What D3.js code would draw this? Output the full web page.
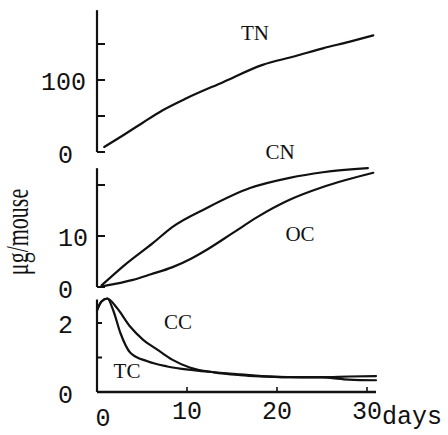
<!DOCTYPE html>
<html><head><meta charset="utf-8">
<script src="https://cdn.jsdelivr.net/npm/d3@7/dist/d3.min.js"></script>
<style>
html,body{margin:0;padding:0;background:#fff;}
svg{display:block;}
.tick-label{font-family:"Liberation Mono","DejaVu Sans Mono",monospace;font-size:25px;fill:#111;}
.series-label{font-family:"Liberation Serif","DejaVu Serif",serif;font-size:21px;fill:#111;}
</style></head>
<body>
<svg id="chart" width="448" height="435"></svg>
<script>
// ---- data ----
const TN_days = [0.8, 3, 5, 7.3, 10, 14, 18.4, 22, 25.1, 28, 30.7];
const TN      = [7, 24, 40, 58, 75, 97, 121, 133, 144, 153, 162];

const CN_days = [0.5, 3, 6.2, 8.4, 12.2, 17, 21.4, 25.1, 30.1];
const CN      = [0.3, 4.2, 8.6, 11.8, 15.5, 19.4, 21.4, 22.5, 23.3];

const OC_days = [0.5, 2, 4, 6, 8.4, 10.5, 12.2, 15.1, 17.8, 21.4, 25.1, 30.7];
const OC      = [0.1, 0.6, 1.4, 2.5, 3.9, 5.6, 7.3, 10.6, 13.7, 17.1, 19.6, 22.4];

const CC_days = [0, 0.5, 1.15, 2.2, 3.7, 5.1, 6.7, 8.4, 10.3, 13, 15.9, 21.4, 25, 28, 31];
const CC      = [2.37, 2.62, 2.71, 2.44, 1.89, 1.52, 1.23, 0.93, 0.71, 0.57, 0.49, 0.43, 0.42, 0.36, 0.34];

const TC_days = [0, 0.5, 1.15, 1.8, 2.6, 3.7, 5.6, 7.8, 10.7, 15.9, 21.4, 25, 28, 31];
const TC      = [2.37, 2.62, 2.71, 2.37, 1.71, 1.14, 0.89, 0.74, 0.63, 0.51, 0.43, 0.43, 0.45, 0.46];

const xTicks = [0, 10, 20, 30];
const xTickLabels = ["0", "10", "20", "30"];
const topTicks = [0, 50, 100, 150];     const topLabels = {0: "0", 100: "100"};
const midTicks = [0, 10, 20];           const midLabels = {0: "0", 10: "10"};
const botTicks = [0, 1, 2];             const botLabels = {0: "0", 2: "2"};
const yTitle = "μg/mouse";
const xTitle = "days";

// ---- layout ----
const svg = d3.select("#chart");
const x = d3.scaleLinear().domain([0, 30]).range([97, 367]);
const yTop = d3.scaleLinear().domain([0, 150]).range([152, 44]);
const yMid = d3.scaleLinear().domain([0, 20]).range([287, 185]);
const yBot = d3.scaleLinear().domain([0, 2]).range([392, 323]);

const stroke = "#111";

function panelAxis(y, ticks, labels, topVal, tickLen) {
  const g = svg.append("g");
  g.append("line").attr("x1", x(0)).attr("x2", x(0))
    .attr("y1", y(0)).attr("y2", y(topVal))
    .attr("stroke", stroke).attr("stroke-width", 2.2);
  ticks.forEach(t => {
    g.append("line").attr("x1", x(0)).attr("x2", x(0) + tickLen)
      .attr("y1", y(t)).attr("y2", y(t))
      .attr("stroke", stroke).attr("stroke-width", 2);
    if (labels[t] !== undefined) {
      const s = labels[t];
      const lx = 58 - 17 * Math.max(0, s.length - 2);
      g.append("text").attr("class", "tick-label")
        .attr("x", lx).attr("y", y(t)).attr("dy", t === 0 ? "0.45em" : "0.38em")
        .text(s);
    }
  });
}

panelAxis(yTop, topTicks, topLabels, 197, 8);
panelAxis(yMid, midTicks, midLabels, 23.3, 8);
panelAxis(yBot, botTicks, botLabels, 2.68, 5);

// x axis
svg.append("line").attr("x1", x(0)).attr("x2", x(31))
  .attr("y1", yBot(0)).attr("y2", yBot(0))
  .attr("stroke", stroke).attr("stroke-width", 2.4);
xTicks.forEach((t, i) => {
  if (t > 0) {
    svg.append("line").attr("x1", x(t)).attr("x2", x(t))
      .attr("y1", yBot(0)).attr("y2", yBot(0) - 5)
      .attr("stroke", stroke).attr("stroke-width", 1.6);
  }
  svg.append("text").attr("class", "tick-label")
    .attr("x", x(t) + (t === 0 ? 6 : 0)).attr("y", t === 0 ? 426 : 419)
    .attr("text-anchor", "middle").text(xTickLabels[i]);
});
svg.append("text").attr("class", "tick-label")
  .attr("x", 382).attr("y", 424).text(xTitle);

// y title
svg.append("text").attr("class", "series-label")
  .attr("transform", "translate(28,232) rotate(-90) scale(1,1.45)")
  .attr("text-anchor", "middle").style("font-size", "22px")
  .text(yTitle);

// ---- curves ----
function drawCurve(days, vals, y) {
  const pts = days.map((d, i) => [d, vals[i]]);
  const line = d3.line().x(d => x(d[0])).y(d => y(d[1])).curve(d3.curveMonotoneX);
  svg.append("path").attr("d", line(pts))
    .attr("fill", "none").attr("stroke", stroke)
    .attr("stroke-width", 2.2).attr("stroke-linejoin", "round").attr("stroke-linecap", "round");
}
drawCurve(TN_days, TN, yTop);
drawCurve(CN_days, CN, yMid);
drawCurve(OC_days, OC, yMid);
drawCurve(CC_days, CC, yBot);
drawCurve(TC_days, TC, yBot);

// series labels
const labels = [["TN", 255, 40], ["CN", 280, 159], ["OC", 300, 241], ["CC", 178, 329], ["TC", 127, 378]];
labels.forEach(l => {
  svg.append("text").attr("class", "series-label")
    .attr("x", l[1]).attr("y", l[2]).attr("text-anchor", "middle").text(l[0]);
});
</script>
</body></html>
